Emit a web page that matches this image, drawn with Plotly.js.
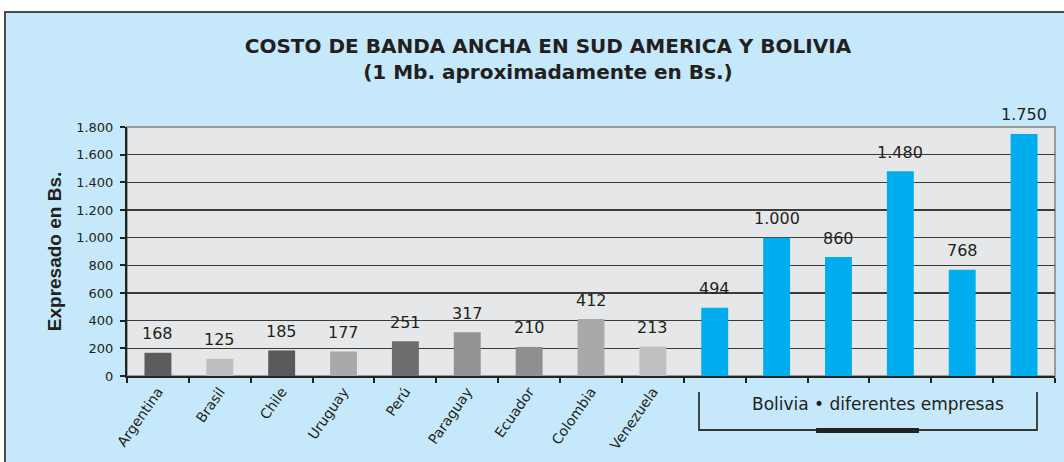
<!DOCTYPE html>
<html>
<head>
<meta charset="utf-8">
<script src="https://cdn.plot.ly/plotly-3.0.1.min.js"></script>
<style>html,body{margin:0;padding:0;background:#fff;}#chart{width:1064px;height:462px;}</style>
</head>
<body>
<div id="chart"></div>
<script>
// ---- data ----
const categories = ["Argentina","Brasil","Chile","Uruguay","Perú","Paraguay","Ecuador","Colombia","Venezuela",
                    "Bolivia 1","Bolivia 2","Bolivia 3","Bolivia 4","Bolivia 5","Bolivia 6"];
const tickLabels = ["Argentina","Brasil","Chile","Uruguay","Perú","Paraguay","Ecuador","Colombia","Venezuela",
                    "","","","","",""];
const values = [168,125,185,177,251,317,210,412,213,494,1000,860,1480,768,1750];
const valueLabels = ["168","125","185","177","251","317","210","412","213","494","1.000","860","1.480","768","1.750"];
const barColors = ["#5b5c5e","#bdbec0","#58595b","#a8a9ab","#6c6d6f","#939496","#8e8f91","#a8a9ab","#bebfc1",
                   "#00aeef","#00aeef","#00aeef","#00aeef","#00aeef","#00aeef"];
const yTickVals = [0,200,400,600,800,1000,1200,1400,1600,1800];
const yTickText = ["0","200","400","600","800","1.000","1.200","1.400","1.600","1.800"];
const bracketLabel = "Bolivia • diferentes empresas";
const titleLines = ["COSTO DE BANDA ANCHA EN SUD AMERICA Y BOLIVIA","(1 Mb. aproximadamente en Bs.)"];
const yTitle = "Expresado en Bs.";

const txt = "#231f20";
const trace = {
  type: "bar", x: categories, y: values,
  marker: {color: barColors, line: {width: 0}},
  hoverinfo: "none"
};

const annotations = values.map((v, i) => ({
  x: categories[i], y: v, xref: "x", yref: "y",
  text: valueLabels[i], showarrow: false, yanchor: "middle", yshift: 19,
  font: {family: "DejaVu Sans", size: 16, color: txt}
}));
annotations.push({
  x: 0.8093, y: -0.1124, xref: "paper", yref: "paper", text: bracketLabel,
  showarrow: false, xanchor: "center", yanchor: "middle",
  font: {family: "DejaVu Sans", size: 17, color: txt}
});

const layout = {
  width: 1064, height: 462,
  margin: {l: 127, r: 9, t: 127, b: 86, pad: 0},
  paper_bgcolor: "#ffffff",
  plot_bgcolor: "rgba(0,0,0,0)",
  showlegend: false,
  bargap: 0.565,
  title: {
    text: "<b>" + titleLines[0] + "</b><br><b>" + titleLines[1] + "</b>",
    x: 0.515, xanchor: "center", xref: "container",
    y: 0.885, yanchor: "middle", yref: "container",
    font: {family: "DejaVu Sans", size: 20, color: txt}
  },
  xaxis: {
    type: "category", tickmode: "array", tickvals: categories, ticktext: tickLabels,
    tickson: "boundaries", ticks: "outside", ticklen: 5, tickwidth: 2, tickcolor: "#222",
    tickangle: -55, tickfont: {family: "DejaVu Sans", size: 14, color: txt},
    showline: true, linecolor: "#222", linewidth: 2, showgrid: false, zeroline: false,
    fixedrange: true
  },
  yaxis: {
    range: [0, 1800], tickmode: "array", tickvals: yTickVals, ticktext: yTickText,
    ticks: "outside", ticklen: 5, tickwidth: 2, tickcolor: "#222", ticklabelstandoff: 4,
    tickfont: {family: "DejaVu Sans", size: 13, color: txt},
    showline: true, linecolor: "#222", linewidth: 2,
    showgrid: true, gridcolor: "#3a3a3a", gridwidth: 1.4, zeroline: false,
    title: {text: "<b>" + yTitle + "</b>", standoff: 10,
            font: {family: "Liberation Sans", size: 19, color: txt}},
    fixedrange: true
  },
  shapes: [
    {type: "rect", xref: "paper", yref: "paper", x0: -0.1315, x1: 1.02, y0: -0.40, y1: 1.4618,
     fillcolor: "#c5e8fa", line: {color: "#4a4a4a", width: 2}, layer: "below"},
    {type: "rect", xref: "paper", yref: "paper", x0: 0, x1: 1, y0: 0, y1: 1,
     fillcolor: "#e6e7e8", line: {color: "#9a9b9d", width: 2}, layer: "below"},
    {type: "path", xref: "paper", yref: "paper",
     path: "M 0.6164 -0.0643 L 0.6164 -0.2169 L 0.9806 -0.2169 L 0.9806 -0.0643",
     line: {color: "#333", width: 1.8}},
    {type: "rect", xref: "paper", yref: "paper", x0: 0.7425, x1: 0.8534, y0: -0.2289, y1: -0.2088,
     fillcolor: "#222", line: {width: 0}}
  ],
  annotations: annotations
};

Plotly.newPlot("chart", [trace], layout, {displayModeBar: false, staticPlot: true});
</script>
</body>
</html>
